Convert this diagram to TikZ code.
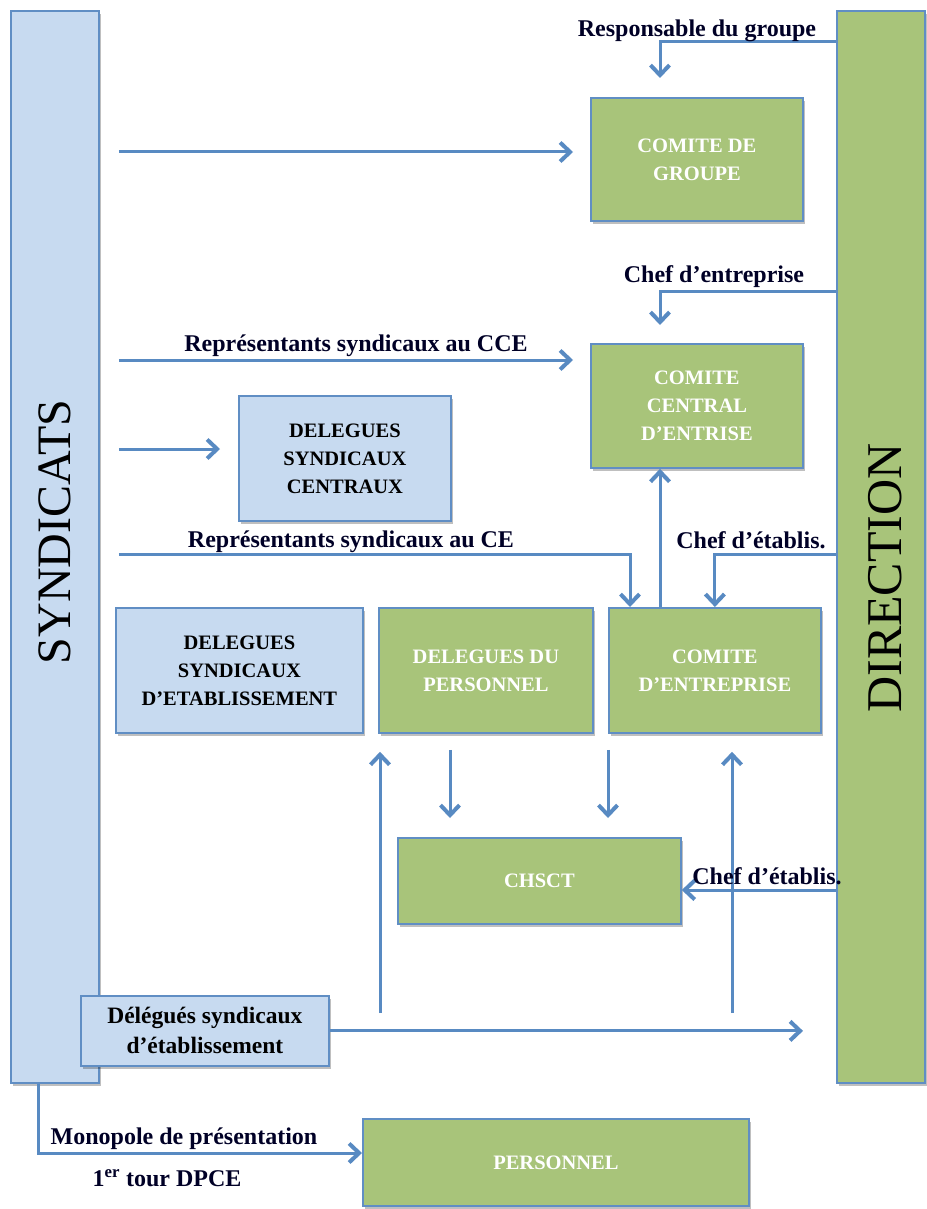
\documentclass[tikz,border=0pt]{standalone}
\usepackage{fontspec}
\setmainfont{Liberation Serif}
\usetikzlibrary{arrows.meta,shadows}

\definecolor{vert}{RGB}{168,196,122}
\definecolor{bleuclair}{RGB}{199,218,240}
\definecolor{bord}{RGB}{96,142,196}
\definecolor{fleche}{RGB}{88,138,194}

\tikzset{
	boite/.style={draw=bord,line width=1.8pt,anchor=north west,align=center,inner sep=0pt,
		font=\fontsize{20.5}{28}\selectfont\bfseries,
		drop shadow={shadow xshift=2pt,shadow yshift=-3pt,opacity=.25,fill=black}},
	verte/.style={boite,fill=vert,text=white},
	bleue/.style={boite,fill=bleuclair,text=black},
	lab/.style={font=\fontsize{24}{28}\selectfont\bfseries,inner sep=0pt,text=black!85!blue},
	grand/.style={font=\fontsize{48}{50}\selectfont,inner sep=0pt,rotate=90},
	fl/.style={draw=fleche,line width=3pt,-{Straight Barb[length=10pt,width=19pt,line width=4pt]}},
}

\begin{document}
\begin{tikzpicture}[x=1pt,y=-1pt]
	\useasboundingbox (0,0) rectangle (926,1209);
	%\draw[step=50,help lines] (0,0) grid (926,1209);

	% colonnes
	\node[bleue,minimum width=88pt,minimum height=1072pt] (synd) at (10,10) {};
	\node[verte,minimum width=88pt,minimum height=1072pt] (dir) at (836,10) {};
	\node[grand] (tsynd) at (55,532) {SYNDICATS};
	\node[grand,font=\fontsize{50}{52}\selectfont] (tdir) at (885,578) {DIRECTION};

	% instances
	\node[verte,minimum width=212pt,minimum height=123pt] (cg) at (590,97) {COMITE DE\\GROUPE};
	\node[verte,minimum width=212pt,minimum height=124pt] (cce) at (590,343) {COMITE\\CENTRAL\\D’ENTRISE};
	\node[bleue,minimum width=212pt,minimum height=125pt] (dsc) at (238,395) {DELEGUES\\SYNDICAUX\\CENTRAUX};
	\node[bleue,minimum width=247pt,minimum height=125pt] (dse) at (115,607) {DELEGUES\\SYNDICAUX\\D’ETABLISSEMENT};
	\node[verte,minimum width=214pt,minimum height=125pt] (dp) at (378,607) {DELEGUES DU\\PERSONNEL};
	\node[verte,minimum width=212pt,minimum height=125pt] (ce) at (608,607) {COMITE\\D’ENTREPRISE};
	\node[verte,minimum width=283pt,minimum height=86pt] (chsct) at (397,837) {CHSCT};
	\node[bleue,minimum width=248pt,minimum height=70pt,font=\fontsize{23.5}{30}\selectfont\bfseries] (dsel) at (80,995) {Délégués syndicaux\\d’établissement};
	\node[verte,minimum width=386pt,minimum height=87pt] (pers) at (362,1118) {PERSONNEL};

	% fleches
	\draw[fl] (dir.west |- 0,42) -| ([xshift=70pt,yshift=19pt]cg.north west);
	\draw[fl,shorten <=19pt,shorten >=17pt] (synd.east |- 0,152) -- (cg.west |- 0,152);
	\draw[fl] (dir.west |- 0,291) -| ([xshift=70pt,yshift=18pt]cce.north west);
	\draw[fl,shorten <=19pt,shorten >=17pt] (synd.east |- 0,360) -- (cce.west |- 0,360);
	\draw[fl,shorten <=19pt,shorten >=18pt] (synd.east |- 0,449) -- (dsc.west |- 0,449);
	\draw[fl,shorten <=19pt] (synd.east |- 0,554) -| ([xshift=22pt]ce.north west);
	\draw[fl] ([xshift=52pt]ce.north west) -- ([xshift=70pt]cce.south west);
	\draw[fl] (dir.west |- 0,554) -| (ce.north);
	\coordinate (b1) at (380,1013);
	\coordinate (b2) at (732,1013);
	\draw[fl,shorten >=18pt] (b1) -- (b1 |- dp.south);
	\draw[fl,shorten <=16pt,shorten >=19pt] ([xshift=72pt]dp.south west) -- ([xshift=53pt]chsct.north west);
	\draw[fl,shorten <=16pt,shorten >=19pt] (ce.south west) -- ([xshift=211pt]chsct.north west);
	\draw[fl,shorten >=18pt] (b2) -- (b2 |- ce.south);
	\draw[fl] (dir.west |- 0,890) -- (chsct.east |- 0,890);
	\draw[fl,shorten >=33pt] (dsel.east) -- (dir.west |- dsel.east);
	\draw[fl] ([xshift=28pt]synd.south west) |- (pers.west |- 0,1153);

	% textes
	\node[lab] (lrg) at (697,31) {Responsable du groupe};
	\node[lab] (lce) at (714,277) {Chef d’entreprise};
	\node[lab] (lcce) at (356,346) {Représentants syndicaux au CCE};
	\node[lab] (lrce) at (351,542) {Représentants syndicaux au CE};
	\node[lab] (let1) at (751,540) {Chef d’établis.};
	\node[lab] (let2) at (767,876) {Chef d’établis.};
	\node[lab] (lmon) at (184,1139) {Monopole de présentation};
	\node[lab] (ltour) at (167,1178) {1\textsuperscript{er} tour DPCE};
\end{tikzpicture}
\end{document}
